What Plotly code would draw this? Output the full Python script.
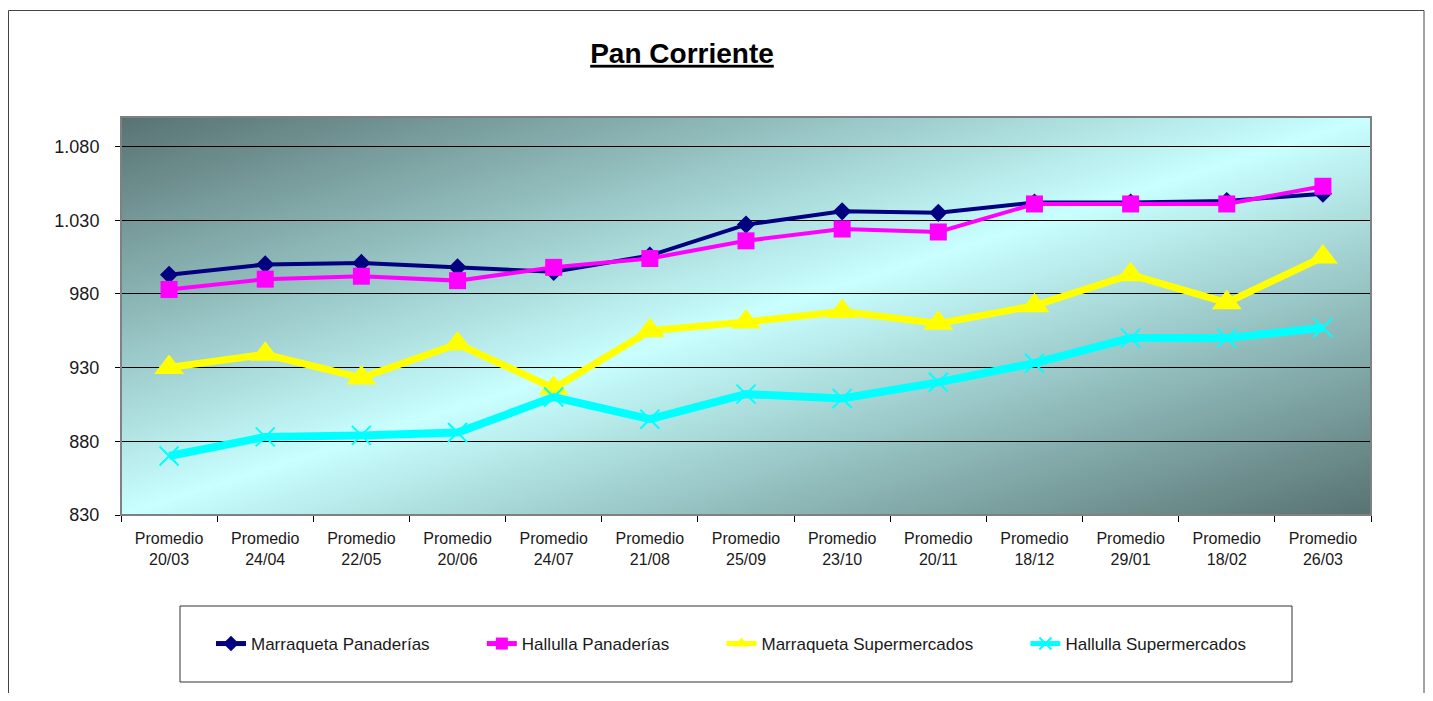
import base64
import plotly.graph_objects as go

# ---------------- data ----------------
categories = ["Promedio<br>20/03", "Promedio<br>24/04", "Promedio<br>22/05", "Promedio<br>20/06",
              "Promedio<br>24/07", "Promedio<br>21/08", "Promedio<br>25/09", "Promedio<br>23/10",
              "Promedio<br>20/11", "Promedio<br>18/12", "Promedio<br>29/01", "Promedio<br>18/02",
              "Promedio<br>26/03"]
marraqueta_panaderias = [993, 1000, 1001, 998, 995, 1006, 1027, 1036, 1035, 1042, 1042, 1043, 1048]
hallulla_panaderias = [983, 990, 992, 989, 998, 1004, 1016, 1024, 1022, 1041, 1041, 1041, 1053]
marraqueta_supermercados = [930, 939, 923, 946, 916, 955, 961, 968, 960, 972, 993, 974, 1005]
hallulla_supermercados = [870, 883, 884, 886, 910, 895, 912, 909, 920, 933, 950, 950, 957]
series_names = ["Marraqueta Panaderías", "Hallulla Panaderías",
                "Marraqueta Supermercados", "Hallulla Supermercados"]
y_ticks = [830, 880, 930, 980, 1030, 1080]
title_text = "Pan Corriente"

# ---------------- layout geometry (page pixel coords) ----------------
OFF = 8  # default body margin of the html page
PW, PH = 1433, 701
W, H = PW - OFF, PH - 2 * OFF
L, R, T, B = 121, 1371, 117, 515
ML, MR, MT, MB = L - OFF, (W + OFF) - R, T - OFF, (H + OFF) - B


def px(x):
    return (x - L) / (R - L)


def py(y):
    return (B - y) / (B - T)


FONT = "Arial, 'Liberation Sans', sans-serif"
pad = "\u00a0" * 10

styles = [
    dict(color="#000080", width=4, symbol="diamond", size=14),
    dict(color="#ff00ff", width=4, symbol="square", size=17),
    dict(color="#ffff00", width=7, symbol="triangle-up", size=26),
    dict(color="#00ffff", width=8, symbol="x-thin-open", size=19),
]
values = [marraqueta_panaderias, hallulla_panaderias, marraqueta_supermercados, hallulla_supermercados]

fig = go.Figure()
for name, vals, st in zip(series_names, values, styles):
    marker = dict(symbol=st["symbol"], size=st["size"], color=st["color"])
    if st["symbol"].endswith("open"):
        marker["line"] = dict(color=st["color"], width=2)
    fig.add_trace(go.Scatter(
        x=categories, y=vals, name=name + pad, mode="lines+markers",
        line=dict(color=st["color"], width=st["width"]),
        marker=marker,
    ))

# gradient background image (SVG)
svg = (
    '<svg xmlns="http://www.w3.org/2000/svg" width="1250" height="398" '
    'viewBox="0 0 100 100" preserveAspectRatio="none">'
    '<defs><linearGradient id="g" x1="0" y1="0" x2="1" y2="1">'
    '<stop offset="0" stop-color="#587272"/>'
    '<stop offset="0.3" stop-color="#9ac7c7"/>'
    '<stop offset="0.5" stop-color="#c9ffff"/>'
    '<stop offset="0.7" stop-color="#9ac7c7"/>'
    '<stop offset="1" stop-color="#587272"/>'
    '</linearGradient></defs>'
    '<rect x="0" y="0" width="100" height="100" fill="url(#g)"/></svg>'
)
uri = "data:image/svg+xml;base64," + base64.b64encode(svg.encode()).decode()

fig.update_layout(
    width=W, height=H,
    margin=dict(l=ML, r=MR, t=MT, b=MB, pad=0),
    paper_bgcolor="white",
    plot_bgcolor="rgba(0,0,0,0)",
    separators=",.",
    font=dict(family=FONT, size=16, color="#1a1a1a"),
    title=dict(text="<b><u>" + title_text + "</u></b>", x=(682 - OFF) / W, xanchor="center",
               y=1 - (53 - OFF) / H, yanchor="middle", font=dict(size=28, color="black", family=FONT)),
    images=[dict(source=uri, xref="paper", yref="paper", x=0, y=1, sizex=1, sizey=1,
                 sizing="stretch", layer="below", xanchor="left", yanchor="top")],
    showlegend=True,
    legend=dict(orientation="h", x=px(211), xanchor="left", y=py(644), yanchor="middle",
                bgcolor="rgba(0,0,0,0)", borderwidth=0, itemsizing="constant",
                font=dict(size=17, family=FONT, color="#1a1a1a"), traceorder="normal"),
    xaxis=dict(type="category", range=[-0.5, len(categories) - 0.5], showgrid=False,
               showline=True, linecolor="black", linewidth=1, ticks="outside", ticklen=6,
               tickcolor="black", tickson="boundaries", tickfont=dict(size=16, family=FONT),
               ticklabelstandoff=9, zeroline=False, fixedrange=True),
    yaxis=dict(range=[830, 1100], tickvals=y_ticks, separatethousands=True, tickformat=",d",
               showgrid=True, gridcolor="black", gridwidth=1, showline=True, linecolor="black",
               linewidth=1, ticks="outside", ticklen=5, tickcolor="black",
               tickfont=dict(size=18, family=FONT), ticklabelstandoff=12, zeroline=False,
               fixedrange=True),
    shapes=[
        # plot area frame (top/right gray)
        dict(type="rect", xref="paper", yref="paper", x0=0, y0=0, x1=1, y1=1,
             line=dict(color="#808080", width=2), layer="above"),
        # legend box
        dict(type="rect", xref="paper", yref="paper", x0=px(180), x1=px(1292), y0=py(682), y1=py(606),
             line=dict(color="#333333", width=1)),
        # outer chart frame
        dict(type="rect", xref="paper", yref="paper", x0=px(8.5), x1=px(1424), y0=py(720), y1=py(10.5),
             line=dict(color="#444444", width=1)),
    ],
)

fig.write_html("out.html")
